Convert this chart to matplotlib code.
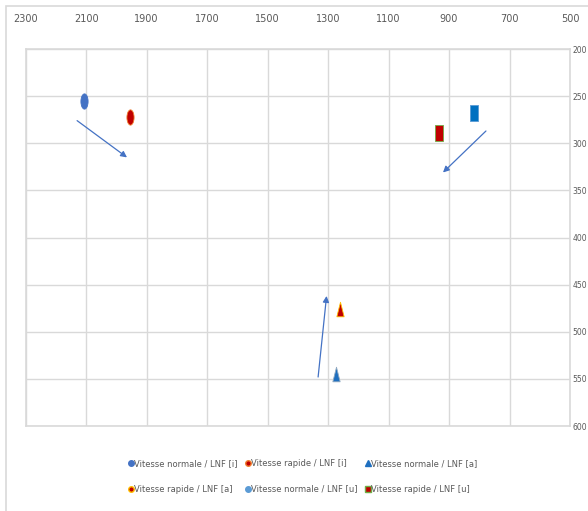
import matplotlib.pyplot as plt
import numpy as np
from matplotlib.path import Path
from matplotlib.lines import Line2D
from matplotlib.patches import Rectangle

plt.rcParams['font.family'] = ['DejaVu Sans Condensed', 'Liberation Sans Narrow', 'DejaVu Sans']

# series (F2 in x, F1 in y)
labels = ["Vitesse normale / LNF [i]", "Vitesse rapide / LNF [i]", "Vitesse normale / LNF [a]",
          "Vitesse rapide / LNF [a]", "Vitesse normale / LNF [u]", "Vitesse rapide / LNF [u]"]
f2 = [2107, 1955, 1275, 1260, 819, 934]
f1 = [255, 272, 545, 476, 268, 289]

# arrows normal -> rapide
arrow_start_x = [2130, 778, 1333]
arrow_start_y = [276, 287, 548]
arrow_end_x = [1965, 920, 1305]
arrow_end_y = [315, 331, 462]

x_ticks = [2300, 2100, 1900, 1700, 1500, 1300, 1100, 900, 700, 500]
y_ticks = [200, 250, 300, 350, 400, 450, 500, 550, 600]

# stretched markers (picture markers in the original are squashed horizontally)
circ = Path.unit_circle()
ellipse = Path(circ.vertices * [0.47, 1.0], circ.codes)
tri = Path([(-0.5, -1), (0.5, -1), (0, 1), (-0.5, -1)], [1, 2, 2, 79])
rect = Path([(-0.5, -1), (0.5, -1), (0.5, 1), (-0.5, 1), (-0.5, -1)], [1, 2, 2, 2, 79])

styles = [
    dict(marker=ellipse, color='#4472C4', mec='#4472C4', ms=11),
    dict(marker=ellipse, color='#C00000', mec='#F08030', ms=11),
    dict(marker=tri, color='#1F6FBF', mec='#8FA8C0', ms=10.5),
    dict(marker=tri, color='#C00000', mec='#FFC000', ms=10.5),
    dict(marker=rect, color='#0070C0', mec='#5B9BD5', ms=11),
    dict(marker=rect, color='#C00000', mec='#70AD47', ms=11),
]

fig = plt.figure(figsize=(5.88, 5.11), dpi=100)
ax = fig.add_axes([0.0437, 0.1663, 0.9257, 0.7378])

for xv, yv, st in zip(f2, f1, styles):
    ax.plot([xv], [yv], linestyle='none', mew=0.6, zorder=3, **st)

for sx, sy, ex, ey in zip(arrow_start_x, arrow_start_y, arrow_end_x, arrow_end_y):
    ax.annotate('', xy=(ex, ey), xytext=(sx, sy),
                arrowprops=dict(arrowstyle='-|>', color='#4472C4', lw=0.9,
                                mutation_scale=9, shrinkA=0, shrinkB=0))

ax.set_xlim(2300, 500)
ax.set_ylim(600, 200)
ax.set_xticks(x_ticks)
ax.set_yticks(y_ticks)
ax.xaxis.tick_top()
ax.yaxis.tick_right()
ax.tick_params(length=0, colors='#595959')
ax.tick_params(axis='x', pad=18, labelsize=7)
ax.tick_params(axis='y', pad=2, labelsize=5.5)
ax.grid(True, color='#D9D9D9', lw=1)
ax.set_axisbelow(True)
for s in ax.spines.values():
    s.set_color('#D9D9D9')
    s.set_linewidth(1.2)

# legend (row-wise order as in the original)
leg_styles = [
    dict(marker='o', color='#4472C4', mec='#4472C4', ms=4),
    dict(marker='o', color='#C00000', mec='#F08030', ms=4),
    dict(marker='^', color='#1F6FBF', mec='#1F6FBF', ms=4),
    dict(marker='o', color='#C00000', mec='#FFC000', ms=4),
    dict(marker='o', color='#5B9BD5', mec='#5B9BD5', ms=4),
    dict(marker='s', color='#C00000', mec='#70AD47', ms=4),
]
handles = [Line2D([], [], linestyle='none', **st) for st in leg_styles]
order = [0, 3, 1, 4, 2, 5]
fig.legend([handles[i] for i in order], [labels[i] for i in order], ncol=3, loc='center',
           bbox_to_anchor=(0.515, 0.068), frameon=False, fontsize=6, labelcolor='#595959',
           handlelength=0.6, handletextpad=0.1, columnspacing=0.9, labelspacing=2.0)

# outer chart frame (cropped at right and bottom)
fig.patches.append(Rectangle((6 / 588, -0.1), 1.2, 1.1 - 6 / 511, transform=fig.transFigure,
                             fill=False, edgecolor='#D9D9D9', lw=1.2))

fig.savefig('out.png', dpi=100)
